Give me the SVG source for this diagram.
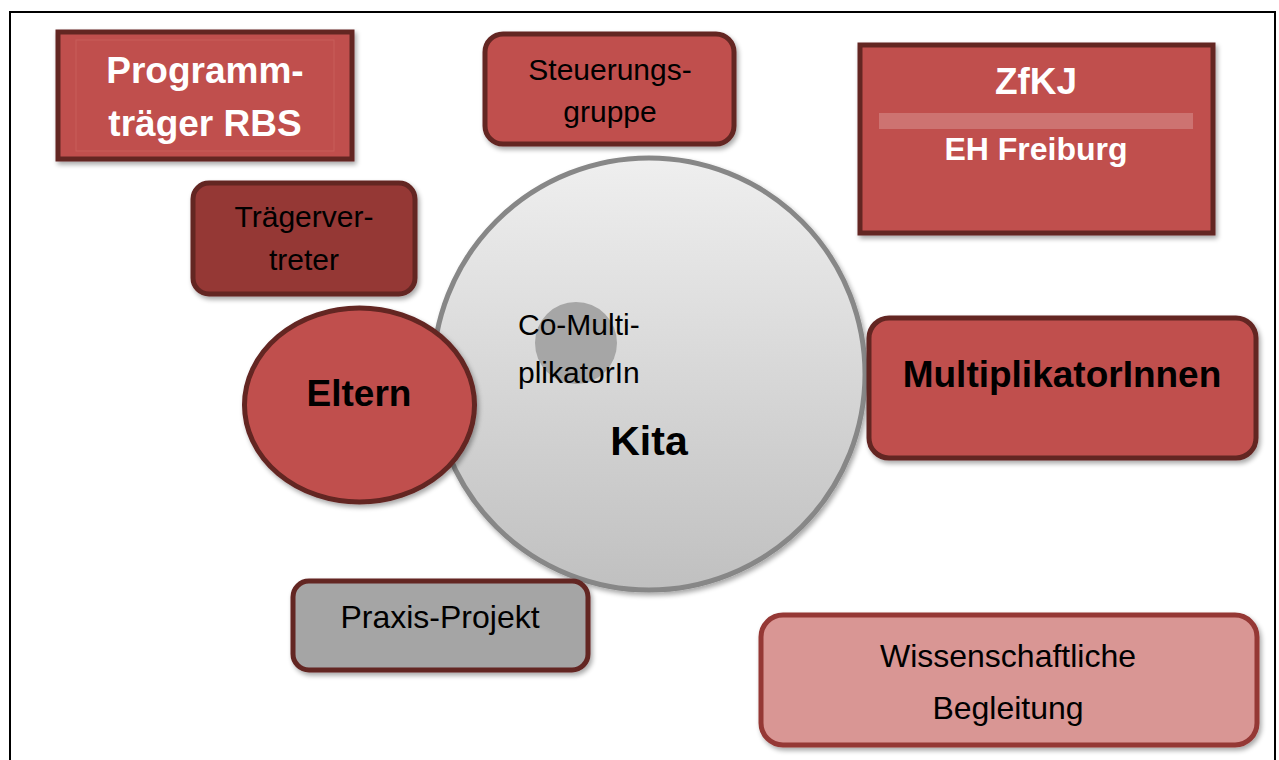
<svg xmlns="http://www.w3.org/2000/svg" width="1279" height="760" viewBox="0 0 1279 760">
<defs>
<linearGradient id="kitaGrad" x1="0" y1="0" x2="0" y2="1">
<stop offset="0" stop-color="#efefef"/>
<stop offset="1" stop-color="#c0c0c0"/>
</linearGradient>
<filter id="shadow" x="-10%" y="-10%" width="125%" height="130%">
<feGaussianBlur in="SourceAlpha" stdDeviation="2.5"/>
<feOffset dx="2" dy="3" result="b"/>
<feComponentTransfer><feFuncA type="linear" slope="0.35"/></feComponentTransfer>
<feMerge><feMergeNode/><feMergeNode in="SourceGraphic"/></feMerge>
</filter>
</defs>
<style>
.red{fill:#c0504d;stroke:#632523;stroke-width:5}
.dark{fill:#953735;stroke:#632523;stroke-width:5}
.grey{fill:#a5a5a5;stroke:#632523;stroke-width:5}
.pink{fill:#d99694;stroke:#953735;stroke-width:5}
text{font-family:"Liberation Sans",Arial,sans-serif;text-anchor:middle}
.w{fill:#ffffff;font-weight:bold}
.b{fill:#000000;font-weight:bold}
.n{fill:#000000}
</style>
<rect x="0" y="0" width="1279" height="760" fill="#ffffff"/>
<rect x="10" y="12" width="1265" height="760" fill="none" stroke="#000000" stroke-width="2"/>
<g id="connectors"/>
<g id="kita">
<circle cx="649" cy="374" r="216" fill="url(#kitaGrad)" stroke="#878787" stroke-width="5" filter="url(#shadow)"/>
<text x="649" y="455" class="b" font-size="41">Kita</text>
</g>
<g id="co-multiplikatorin">
<circle cx="576" cy="343" r="41" fill="#a6a6a6"/>
<text x="518" y="335" class="n" font-size="30" style="text-anchor:start">Co-Multi-</text>
<text x="518" y="383" class="n" font-size="30" style="text-anchor:start">plikatorIn</text>
</g>
<g id="programmtraeger">
<rect x="58" y="32" width="294" height="127" class="red" filter="url(#shadow)"/>
<rect x="76" y="40" width="258" height="111" fill="none" stroke="#c85e5b" stroke-width="1"/>
<text x="205" y="83" class="w" font-size="37">Programm-</text>
<text x="205" y="136" class="w" font-size="37">träger RBS</text>
</g>
<g id="steuerungsgruppe">
<rect x="485" y="34" width="249" height="110" rx="18" class="red" filter="url(#shadow)"/>
<text x="610" y="80" class="n" font-size="30">Steuerungs-</text>
<text x="610" y="122" class="n" font-size="30">gruppe</text>
</g>
<g id="zfkj">
<rect x="860" y="45" width="353" height="188" class="red" filter="url(#shadow)"/>
<rect x="879" y="113" width="314" height="16" fill="#cd7371"/>
<text x="1036" y="94" class="w" font-size="37">ZfKJ</text>
<text x="1036" y="160" class="w" font-size="32">EH Freiburg</text>
</g>
<g id="traegervertreter">
<rect x="193" y="183" width="222" height="111" rx="16" class="dark" filter="url(#shadow)"/>
<text x="304" y="227" class="n" font-size="30">Trägerver-</text>
<text x="304" y="270" class="n" font-size="30">treter</text>
</g>
<g id="eltern">
<ellipse cx="359.5" cy="405" rx="115" ry="97" class="red" stroke-width="4" filter="url(#shadow)"/>
<text x="359" y="406" class="b" font-size="37">Eltern</text>
</g>
<g id="multiplikatorinnen">
<rect x="869" y="318" width="387" height="140" rx="20" class="red" filter="url(#shadow)"/>
<text x="1062" y="387" class="b" font-size="37">MultiplikatorInnen</text>
</g>
<g id="praxis-projekt">
<rect x="293" y="581" width="295" height="89" rx="16" class="grey" filter="url(#shadow)"/>
<text x="440" y="628" class="n" font-size="32">Praxis-Projekt</text>
</g>
<g id="wissenschaftliche-begleitung">
<rect x="761" y="615" width="496" height="130" rx="22" class="pink" filter="url(#shadow)"/>
<text x="1008" y="667" class="n" font-size="32">Wissenschaftliche</text>
<text x="1008" y="719" class="n" font-size="32">Begleitung</text>
</g>
</svg>
